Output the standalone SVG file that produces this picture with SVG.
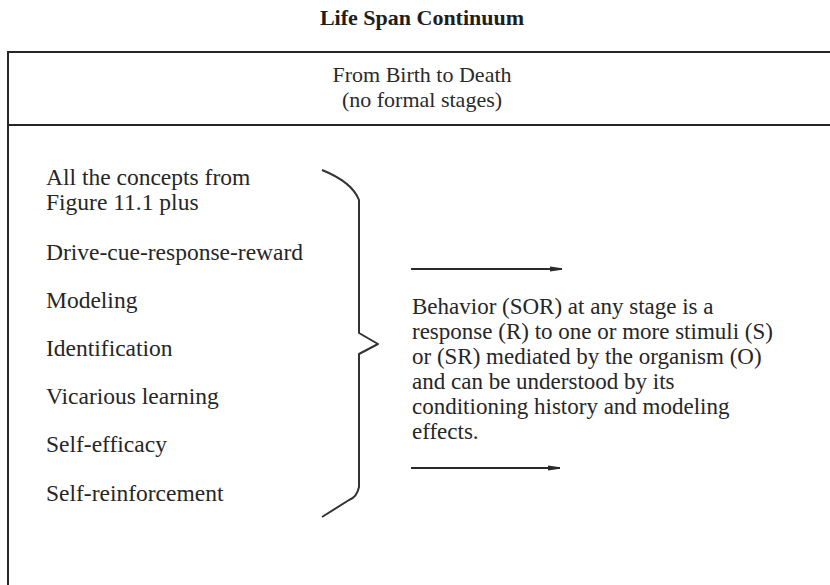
<svg xmlns="http://www.w3.org/2000/svg" width="830" height="585" viewBox="0 0 830 585">
<style>
  .t { font-family: "Liberation Serif", "Times New Roman", serif; font-size: 23.5px; fill: #262626; }
  .b { font-family: "Liberation Serif", "Times New Roman", serif; font-size: 23px; fill: #262626; }
  .title { font-family: "Liberation Serif", "Times New Roman", serif; font-size: 22px; font-weight: bold; fill: #1e1e1e; }
  .hd { font-family: "Liberation Serif", "Times New Roman", serif; font-size: 22px; fill: #2a2a2a; }
  .frame { stroke: #262626; stroke-width: 2; fill: none; }
  .brace { stroke: #333; stroke-width: 2; fill: none; stroke-linejoin: round; }
  .conn { stroke: #2a2a2a; stroke-width: 2; fill: none; }
</style>
<defs>
  <marker id="ah" markerUnits="userSpaceOnUse" markerWidth="13" markerHeight="6" refX="12" refY="3" orient="auto">
    <path d="M0,0.5 L12,2.2 L12,3.8 L0,5.5 z" fill="#2a2a2a"/>
  </marker>
</defs>
<rect width="830" height="585" fill="#ffffff"/>

<g id="title">
  <text class="title" x="422" y="25" text-anchor="middle">Life Span Continuum</text>
</g>

<g id="frame">
  <line class="frame" x1="7" y1="52" x2="830" y2="52"/>
  <line class="frame" x1="8" y1="51" x2="8" y2="585"/>
  <line class="frame" x1="8" y1="125" x2="830" y2="125"/>
</g>

<g id="header">
  <text class="hd" x="422" y="82" text-anchor="middle">From Birth to Death</text>
  <text class="hd" x="422" y="107" text-anchor="middle">(no formal stages)</text>
</g>

<g id="concepts">
  <text class="t" x="46" y="185">All the concepts from</text>
  <text class="t" x="46" y="210">Figure 11.1 plus</text>
  <text class="t" x="46" y="260">Drive-cue-response-reward</text>
  <text class="t" x="46" y="308">Modeling</text>
  <text class="t" x="46" y="356">Identification</text>
  <text class="t" x="46" y="404">Vicarious learning</text>
  <text class="t" x="46" y="452">Self-efficacy</text>
  <text class="t" x="46" y="501">Self-reinforcement</text>
</g>

<g id="brace">
  <path class="brace" d="M322,170 Q352,182 359,200 L359,333 L378,344 L359,354 L359,487 Q357,497 349,500 L322,517"/>
</g>

<g id="behavior">
  <text class="b" x="412" y="314">Behavior (SOR) at any stage is a</text>
  <text class="b" x="412" y="339">response (R) to one or more stimuli (S)</text>
  <text class="b" x="412" y="364">or (SR) mediated by the organism (O)</text>
  <text class="b" x="412" y="389">and can be understood by its</text>
  <text class="b" x="412" y="414">conditioning history and modeling</text>
  <text class="b" x="412" y="439">effects.</text>
</g>

<g id="connectors">
  <line class="conn" x1="411" y1="269" x2="562" y2="269" marker-end="url(#ah)"/>
  <line class="conn" x1="411" y1="468" x2="560" y2="468" marker-end="url(#ah)"/>
</g>
</svg>
